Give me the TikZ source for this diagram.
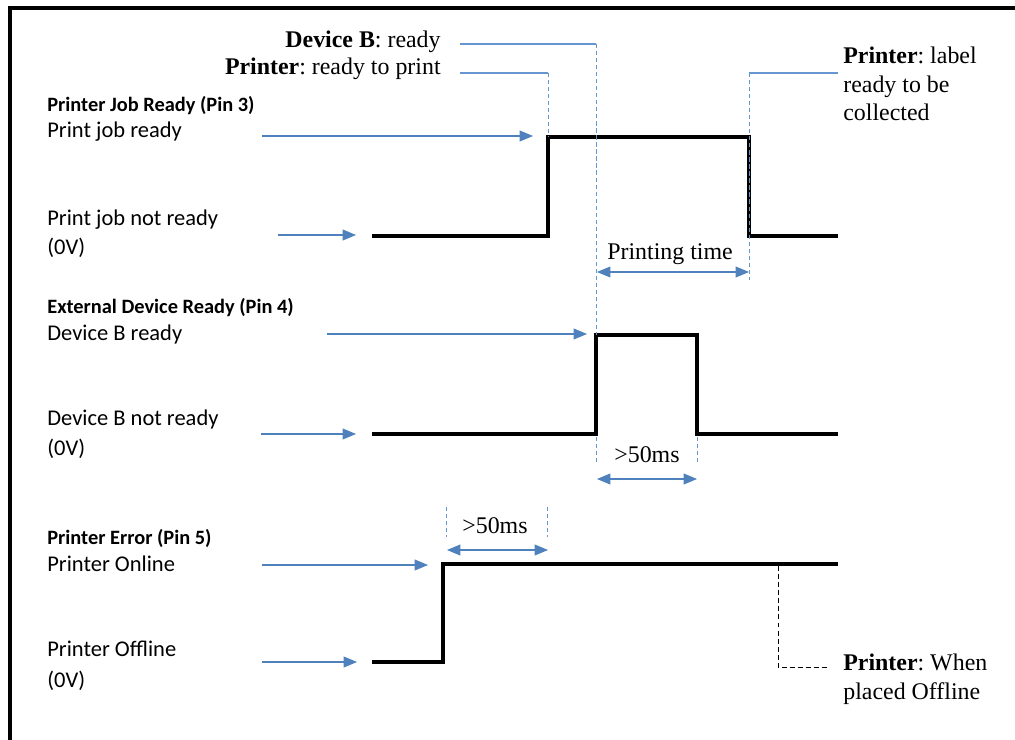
\documentclass[tikz,border=0pt]{standalone}
\usepackage{fontspec}
\setmainfont{Liberation Serif}
\setsansfont{Carlito}
\usetikzlibrary{arrows.meta}
\frenchspacing

\definecolor{cueblue}{RGB}{79,129,189}
\definecolor{guideblue}{RGB}{102,150,210}

\tikzset{
  sig/.style={line width=2.4pt, line join=miter},
  cue/.style={cueblue, line width=0.6pt, ->},
  span/.style={cueblue, line width=0.6pt, <->},
  guide/.style={guideblue, line width=0.5pt, dash pattern=on 2.4pt off 1.6pt},
  leader/.style={guideblue, line width=0.6pt},
  offmark/.style={black, line width=0.5pt, dash pattern=on 2.8pt off 1.8pt},
  head/.style={font=\sffamily\bfseries\fontsize{11.6}{14}\selectfont, anchor=base west, inner sep=0pt},
  lvl/.style={font=\sffamily\fontsize{12.8}{15}\selectfont, anchor=base west, inner sep=0pt},
  note/.style={font=\fontsize{13.6}{16.3}\selectfont, inner sep=0pt},
}

\begin{document}
\begin{tikzpicture}[x=0.02cm, y=-0.02cm, >={Triangle[length=7.6pt,width=6.2pt]}]
\useasboundingbox (0,0) rectangle (1015,740);
\draw[line width=2pt, line join=miter] (10,740) -- (10,8) -- (1015,8);

% Pin 3
\node[head] (h3) at (47,112) {Printer Job Ready (Pin 3)};
\node[lvl] (j-hi) at (47,138) {Print job ready};
\node[lvl] (j-lo) at (47,225) {Print job not ready};
\node[lvl] (j-0v) at (47,255) {(0V)};
\coordinate (jr) at (548,137);
\coordinate (jf) at (749,137);
\draw[sig] (372,236) -| (jr) -| (jf) |- (838,236);
\coordinate (j-hi-a) at (262,136);
\coordinate (j-hi-b) at (533,136);
\coordinate (j-lo-a) at (278,235);
\coordinate (j-lo-b) at (356,235);
\draw[cue] (j-hi-a) -- (j-hi-b);
\draw[cue] (j-lo-a) -- (j-lo-b);

% Pin 4
\node[head] (h4) at (47,313) {External Device Ready (Pin 4)};
\node[lvl] (d-hi) at (47,340) {Device B ready};
\node[lvl] (d-lo) at (47,425) {Device B not ready};
\node[lvl] (d-0v) at (47,455) {(0V)};
\coordinate (dr) at (596,335);
\coordinate (df) at (697,335);
\draw[sig] (372,434) -| (dr) -| (df) |- (838,434);
\coordinate (d-hi-a) at (327,334);
\coordinate (d-hi-b) at (587,334);
\coordinate (d-lo-a) at (261,434);
\coordinate (d-lo-b) at (356,434);
\draw[cue] (d-hi-a) -- (d-hi-b);
\draw[cue] (d-lo-a) -- (d-lo-b);

% Pin 5
\node[head] (h5) at (47,544) {Printer Error (Pin 5)};
\node[lvl] (e-hi) at (47,571) {Printer Online};
\node[lvl] (e-lo) at (47,656) {Printer Offline};
\node[lvl] (e-0v) at (47,687) {(0V)};
\coordinate (er) at (443,564);
\draw[sig] (372,662) -| (er) -- (838,564);
\coordinate (e-hi-a) at (262,565);
\coordinate (e-hi-b) at (428,565);
\coordinate (e-lo-a) at (262,662);
\coordinate (e-lo-b) at (357,662);
\draw[cue] (e-hi-a) -- (e-hi-b);
\draw[cue] (e-lo-a) -- (e-lo-b);

% notes on top
\node[note, anchor=base east] (nb) at (441,48) {\textbf{Device B}: ready};
\node[note, anchor=base east] (np) at (441,75) {\textbf{Printer}: ready to print};
\node[note, anchor=base west, align=left] (nc) at (843,121) {\textbf{Printer}: label\\ready to be\\collected};
\coordinate (nb-l) at (460,44);
\coordinate (nb-r) at (596,44);
\coordinate (np-l) at (460,73);
\coordinate (np-r) at (548,73);
\coordinate (nc-l) at (749,73);
\coordinate (nc-r) at (838,73);
\draw[leader] (nb-l) -- (nb-r);
\draw[leader] (np-l) -- (np-r);
\draw[leader] (nc-l) -- (nc-r);
\draw[guide] (nb-r) -- (dr);
\draw[guide] (np-r) -- (jr);
\coordinate (pt-a) at (597,272);
\coordinate (pt-b) at (749,272);
\draw[guide] (nc-l) -- (749,280);
\draw[span] (pt-a) -- (pt-b);
\node[note, anchor=base] (pt) at (670,259) {Printing time};

% device pulse width
\coordinate (dw-a) at (597,479);
\coordinate (dw-b) at (697,479);
\draw[guide] (596,437) -- (596,465);
\draw[guide] (697,437) -- (697,465);
\draw[span] (dw-a) -- (dw-b);
\node[note, anchor=base] (dw) at (647,462) {>50ms};

% error delay
\coordinate (ew-a) at (447,550);
\coordinate (ew-b) at (548,550);
\draw[guide] (446,507) -- (446,537);
\draw[guide] (547,507) -- (547,537);
\draw[span] (ew-a) -- (ew-b);
\node[note, anchor=base] (ew) at (495,533) {>50ms};

% offline note
\coordinate (off) at (778,566);
\coordinate (off-r) at (828,667);
\draw[offmark] (off) |- (off-r);
\node[note, anchor=base west, align=left] (no) at (843,699) {\textbf{Printer}: When\\placed Offline};
\end{tikzpicture}
\end{document}
